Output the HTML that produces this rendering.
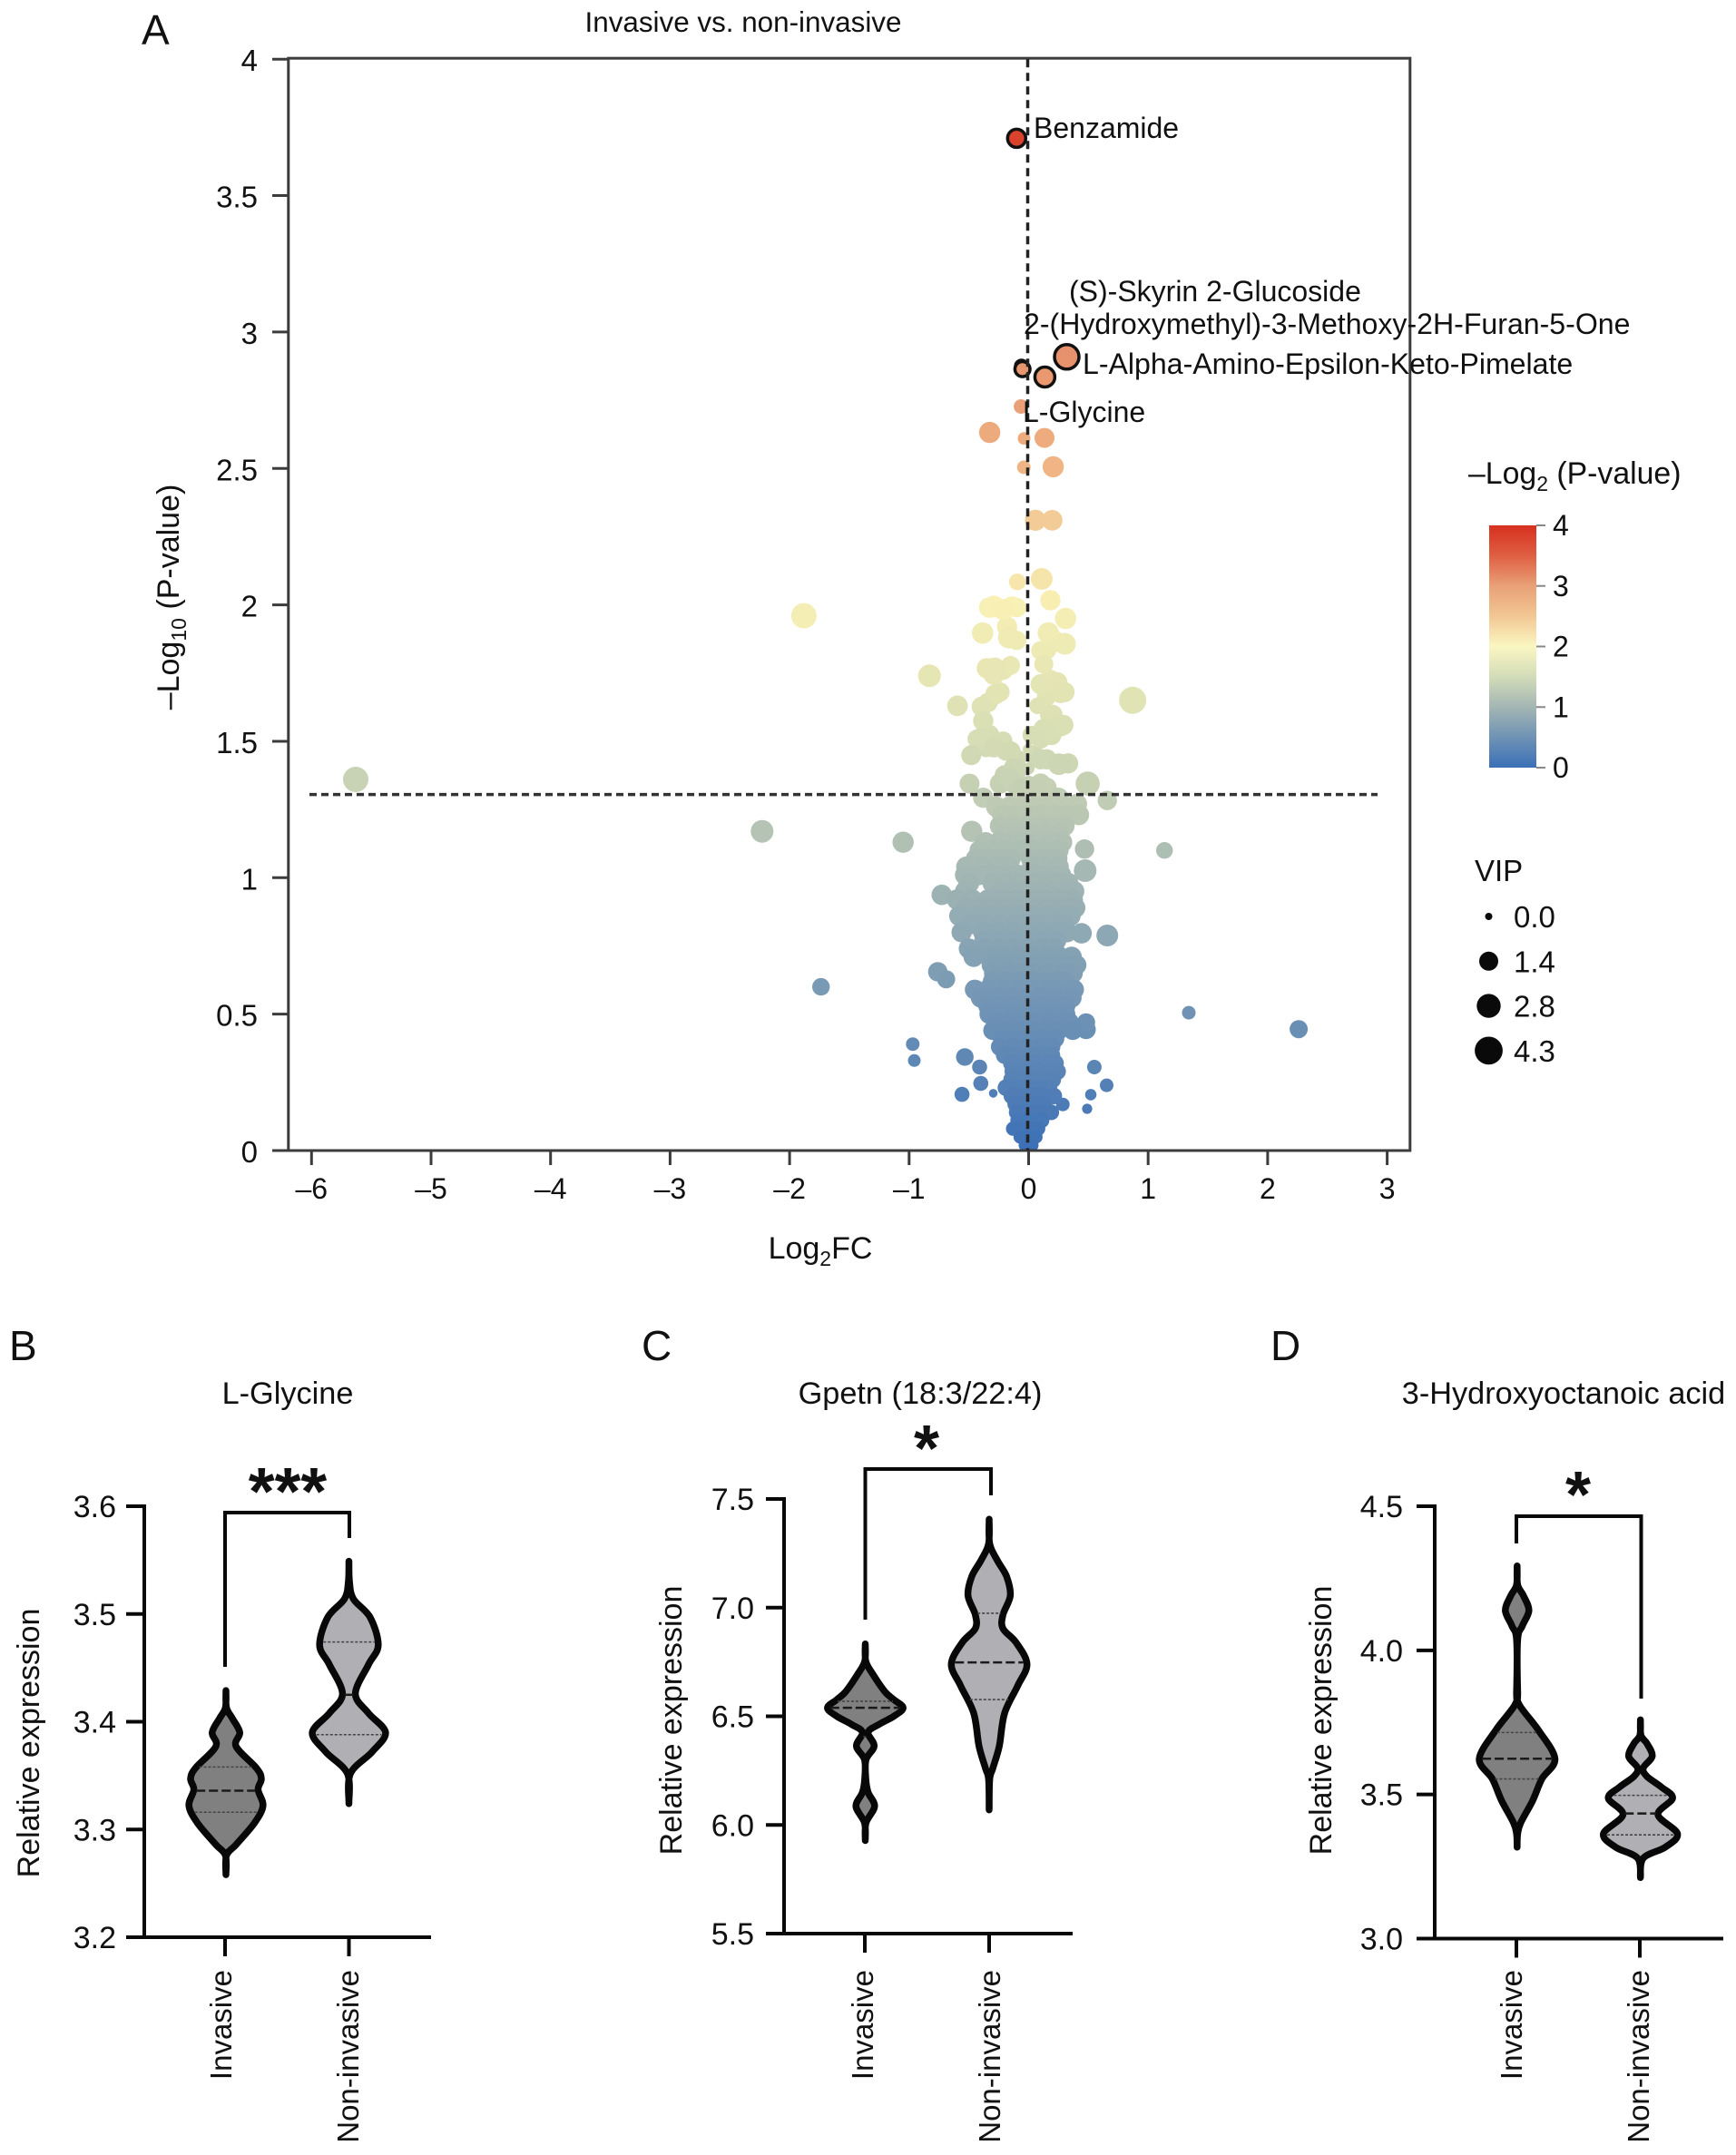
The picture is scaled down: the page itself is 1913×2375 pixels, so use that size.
<!DOCTYPE html>
<html lang="en">
<head>
<meta charset="utf-8">
<title>Invasive vs. non-invasive metabolite volcano and violin plots</title>
<style>
html,body{margin:0;padding:0;background:#fff;}
svg{display:block;}
text{font-family:"Liberation Sans",sans-serif;fill:#111;}
</style>
</head>
<body>
<svg id="figure" xmlns="http://www.w3.org/2000/svg" width="1913" height="2375" viewBox="0 0 1913 2375">
  <defs>
    <linearGradient id="cbar" x1="0" y1="1" x2="0" y2="0"></linearGradient>
  </defs>
  <rect x="0" y="0" width="1913" height="2375" fill="#fff"/>

  <text x="156" y="49" font-size="46">A</text>
  <text x="10" y="1499" font-size="46">B</text>
  <text x="707" y="1499" font-size="46">C</text>
  <text x="1400" y="1499" font-size="46">D</text>

  <text x="819" y="35" font-size="31.4" text-anchor="middle">Invasive vs. non-invasive</text>
  <g id="volcano-points"></g>
  <g id="volcano-axes"></g>

  <text x="904" y="1387" font-size="34" text-anchor="middle">Log<tspan font-size="23" dy="8">2</tspan><tspan dy="-8">FC</tspan></text>
  <text transform="translate(197 658) rotate(-90)" font-size="34" text-anchor="middle">–Log<tspan font-size="23" dy="8">10</tspan><tspan dy="-8"> (P-value)</tspan></text>

  <text x="1139" y="152" font-size="32">Benzamide</text>
  <text x="1178" y="332" font-size="32">(S)-Skyrin 2-Glucoside</text>
  <text x="1128" y="368" font-size="32.1">2-(Hydroxymethyl)-3-Methoxy-2H-Furan-5-One</text>
  <text x="1193" y="412" font-size="32.1">L-Alpha-Amino-Epsilon-Keto-Pimelate</text>
  <text x="1127" y="465" font-size="32">L-Glycine</text>

  <text x="1618" y="533" font-size="33.8">–Log<tspan font-size="23" dy="8">2</tspan><tspan dy="-8"> (P-value)</tspan></text>
  <g id="colorbar"></g>
  <text x="1625" y="971" font-size="33">VIP</text>
  <g id="size-legend"></g>

  <g id="panel-b"></g>
  <g id="panel-c"></g>
  <g id="panel-d"></g>
</svg>

<script>
// ---------- Panel A data ----------
const volcanoXTicks = [-6,-5,-4,-3,-2,-1,0,1,2,3];
const volcanoYTicks = [0,0.5,1,1.5,2,2.5,3,3.5,4];
const volcanoYTickLabels = ['0','0.5','1','1.5','2','2.5','3','3.5','4'];
const pThreshold = 1.305;
const fcThreshold = 0;

// isolated points read individually
const outlierFC = [-5.63,-2.23,-1.88,-1.737,-1.05,-0.97,-0.957,-0.83,-0.727,-0.76,-0.69,-0.595,-0.534,-0.557,-0.494,-0.481,-0.476,-0.41,-0.40,-0.296,0.286,0.443,0.49,0.52,0.55,0.653,0.658,0.468,0.473,0.481,0.481,0.494,0.658,0.87,1.137,1.34,2.26];
const outlierP  = [1.36,1.17,1.96,0.60,1.13,0.39,0.33,1.74,0.937,0.655,0.628,1.63,0.343,0.206,1.345,1.449,1.17,0.306,0.246,0.21,0.169,0.796,0.153,0.205,0.306,0.239,0.788,1.105,1.026,0.444,0.47,1.345,1.283,1.65,1.10,0.505,0.445];
const outlierVip= [3.3,2.4,3.3,1.07,1.96,0.4,0.3,2.4,1.76,1.5,1.2,1.8,1.07,0.6,1.6,1.6,1.96,0.6,0.6,0.02,0.4,1.76,0.08,0.17,0.53,0.4,2.1,1.5,2.4,1.5,1.2,2.86,1.5,4,0.9,0.4,1.2];

// upper arm of the volcano
const upperFC = [-0.064,-0.326,-0.038,0.133,-0.04,0.206,0.057,0.197,-0.094,0.109,0.182,-0.29,-0.139,-0.215,0.309,-0.385,-0.165,0.165,0.304,0.101,0.127,-0.152,-0.284,-0.29,0.101,0.24,0.266,-0.278,-0.392,0.076,0.2,-0.38,0.266,0.127,-0.392,-0.215,0.101,-0.291,-0.152,0,0.1,0.253,-0.127,-0.165,0,0.076,-0.076];
const upperP  = [2.727,2.632,2.61,2.612,2.504,2.506,2.31,2.31,2.084,2.095,2.017,1.994,1.994,1.983,1.95,1.897,1.88,1.897,1.857,1.832,1.783,1.778,1.768,1.746,1.709,1.716,1.679,1.672,1.627,1.63,1.597,1.575,1.557,1.545,1.511,1.501,1.508,1.478,1.463,1.47,1.434,1.416,1.404,1.363,1.40,1.323,1.323];
const upperVip= [0.53,1.96,0.3,1.62,0.4,1.96,1.9,1.8,0.9,2.1,1.7,2.1,1.7,1.9,2.0,2.0,2.1,2.0,2.1,1.4,1.4,1.4,2.0,2.0,1.7,1.7,2.0,1.7,1.7,0.9,1.7,1.7,2.0,1.7,2.0,1.4,1.4,1.7,1.7,0.2,1.7,2.1,1.4,2.0,0.2,2.1,1.7];

// overlapping points that join the upper arm into a blob
const blobFC = [-0.33,-0.10,-0.18,-0.10,0.23,0.15,-0.35,-0.215,0.18,0.30,0.15,-0.24,-0.34,0.18,0.025,0.19,0.29,-0.43,-0.33,-0.25,-0.354,-0.19,-0.10,0.05,0.15,0.33,-0.20,-0.10,-0.127,0.10,0,-0.24,0.15,-0.38,0.25,0.405];
const blobP  = [1.99,1.99,1.92,1.87,1.865,1.835,1.768,1.76,1.725,1.68,1.664,1.68,1.642,1.597,1.523,1.523,1.56,1.508,1.523,1.493,1.479,1.464,1.434,1.449,1.434,1.419,1.375,1.39,1.345,1.345,1.338,1.345,1.33,1.293,1.293,1.27];
const blobVip= [1.7,1.5,1.7,1.5,1.7,1.5,1.7,1.5,1.7,1.7,1.5,1.5,1.5,1.7,1.2,1.7,1.7,1.5,1.7,1.5,1.7,1.5,1.5,1.5,1.7,1.7,1.7,1.5,1.5,1.7,1.5,1.7,1.7,1.7,1.7,1.7];

// dense core of the volcano, one row per P level
const coreRowP = [1.26,1.23,1.19,1.16,1.13,1.10,1.07,1.04,1.01,0.98,0.95,0.92,0.89,0.86,0.83,0.80,0.77,0.74,0.71,0.68,0.65,0.62,0.59,0.56,0.53,0.50,0.47,0.44,0.41,0.38,0.35,0.32,0.29,0.26,0.23,0.20,0.17,0.14,0.11,0.08,0.05,0.02];
const coreRowVip = [1.8,1.8,1.7,1.7,1.7,1.7,1.7,1.8,1.8,1.8,1.8,1.7,1.7,1.7,1.7,1.7,1.7,1.7,1.7,1.6,1.6,1.6,1.6,1.6,1.5,1.5,1.5,1.4,1.3,1.2,1.1,1.1,1.0,1.0,0.9,0.9,0.8,0.7,0.6,0.5,0.4,0.3];
const coreRowFC = [
  [-0.27,-0.16,-0.05,0.06,0.17,0.27,0.37],
  [-0.22,-0.11,0,0.11,0.22,0.32,0.42],
  [-0.24,-0.13,-0.02,0.09,0.20,0.30],
  [-0.20,-0.08,0.03,0.14,0.25],
  [-0.36,-0.25,-0.14,-0.03,0.08,0.19,0.28],
  [-0.41,-0.30,-0.19,-0.08,0.03,0.14,0.25],
  [-0.44,-0.33,-0.22,-0.15,0.02,0.13,0.24],
  [-0.52,-0.40,-0.28,-0.17,0.03,0.14,0.25],
  [-0.53,-0.42,-0.31,-0.20,-0.09,0.05,0.16,0.27],
  [-0.50,-0.30,-0.19,-0.08,0.03,0.14,0.25,0.33],
  [-0.53,-0.24,-0.13,-0.02,0.09,0.20,0.31,0.38],
  [-0.60,-0.47,-0.34,-0.22,-0.10,0.02,0.14,0.26,0.37],
  [-0.52,-0.40,-0.28,-0.16,-0.04,0.08,0.20,0.32,0.39],
  [-0.58,-0.44,-0.32,-0.20,-0.08,0.04,0.16,0.28,0.35],
  [-0.48,-0.36,-0.24,-0.12,0,0.12,0.24,0.30],
  [-0.56,-0.38,-0.26,-0.14,-0.02,0.10,0.22,0.32],
  [-0.37,-0.25,-0.13,-0.01,0.11,0.23],
  [-0.50,-0.36,-0.24,-0.12,0,0.12,0.21],
  [-0.46,-0.33,-0.21,-0.09,0.03,0.15,0.26,0.36],
  [-0.31,-0.19,-0.07,0.05,0.17,0.29,0.40],
  [-0.29,-0.17,-0.05,0.07,0.19,0.31,0.37],
  [-0.30,-0.19,-0.08,0.03,0.14,0.25,0.30],
  [-0.45,-0.34,-0.22,-0.10,0.02,0.14,0.24,0.38],
  [-0.40,-0.27,-0.15,-0.03,0.09,0.21,0.36],
  [-0.34,-0.24,-0.13,-0.02,0.09,0.20,0.31],
  [-0.33,-0.21,-0.10,0.01,0.12,0.23,0.31],
  [-0.27,-0.16,-0.05,0.06,0.17,0.28,0.34],
  [-0.30,-0.19,-0.08,0.03,0.14,0.25,0.37],
  [-0.22,-0.11,0,0.11,0.22],
  [-0.24,-0.13,-0.02,0.09,0.19],
  [-0.20,-0.10,0,0.10,0.19],
  [-0.14,-0.04,0.06,0.16,0.22],
  [-0.13,-0.03,0.07,0.17,0.24],
  [-0.14,-0.05,0.04,0.13,0.20],
  [-0.19,-0.09,0,0.09,0.17],
  [-0.14,-0.05,0.04,0.12,0.21],
  [-0.11,-0.03,0.05,0.13],
  [-0.10,-0.02,0.06,0.14,0.19],
  [-0.09,-0.02,0.05,0.11],
  [-0.13,-0.05,0.02,0.08],
  [-0.07,0,0.06],
  [-0.03,0.03]
];

// highlighted metabolites (black outline)
const highlightFC = [-0.06,-0.052,0.136,0.319,-0.10];
const highlightP  = [2.875,2.864,2.835,2.909,3.71];
const highlightVip= [0.2,0.6,1.62,3.0,1.2];

// colour scale and legends
const colorStopValues = [0,0.5,1,1.5,2,2.5,3,3.5,4];
const colorStopHex = ['#3b6fb6','#6f93b5','#a3b6b3','#d6ddb4','#f8f0b4','#f0b585','#e58a66','#dd4f36','#d7301f'];
const colorbarStopHex = ['#3b6fb6','#6f93b5','#a3b6b3','#d3dcb8','#faf6c2','#f2c793','#e9a077','#df5f42','#d7301f'];
const colorbarTicks = [0,1,2,3,4];
const vipLegendValues = [0,1.4,2.8,4.3];
const vipLegendLabels = ['0.0','1.4','2.8','4.3'];

// ---------- Violin panel data ----------
const categories = ['Invasive','Non-invasive'];

const bTicks = [3.2,3.3,3.4,3.5,3.6];
const bInvasiveLevels = [3.429,3.413,3.403,3.39,3.377,3.357,3.347,3.337,3.322,3.306,3.286,3.276,3.258];
const bInvasiveDensity = [0,0.07,0.23,0.41,0.32,0.82,0.94,0.86,0.98,0.77,0.32,0.07,0];
const bInvasiveQuartiles = [3.316,3.336,3.358];
const bNonLevels = [3.549,3.53,3.514,3.497,3.471,3.453,3.426,3.408,3.39,3.372,3.352,3.324];
const bNonDensity = [0,0.07,0.18,0.59,0.79,0.55,0.23,0.55,0.97,0.64,0.11,0];
const bNonQuartiles = [3.388,3.425,3.474];

const cTicks = [5.5,6.0,6.5,7.0,7.5];
const cInvasiveLevels = [6.833,6.753,6.69,6.614,6.577,6.539,6.50,6.463,6.426,6.363,6.30,6.212,6.15,6.086,6.01,5.928];
const cInvasiveDensity = [0,0.07,0.27,0.55,0.77,1,0.77,0.41,0.14,0.29,0.09,0.07,0.14,0.3,0.09,0];
const cInvasiveQuartiles = [6.406,6.539,6.569];
const cNonLevels = [7.407,7.294,7.218,7.143,7.055,6.967,6.904,6.84,6.74,6.64,6.514,6.363,6.26,6.21,6.069];
const cNonDensity = [0,0.07,0.27,0.5,0.59,0.41,0.41,0.73,1,0.77,0.45,0.32,0.16,0.07,0];
const cNonQuartiles = [6.577,6.748,6.974];

const dTicks = [3.0,3.5,4.0,4.5];
const dInvasiveLevels = [4.293,4.227,4.189,4.138,4.085,4.037,3.857,3.81,3.724,3.624,3.554,3.478,3.402,3.364,3.317];
const dInvasiveDensity = [0,0.07,0.23,0.36,0.2,0.07,0.07,0.13,0.59,1,0.68,0.45,0.16,0.07,0];
const dInvasiveQuartiles = [3.554,3.624,3.715];
const dNonLevels = [3.759,3.705,3.677,3.633,3.592,3.563,3.525,3.487,3.43,3.364,3.317,3.279,3.212];
const dNonDensity = [0,0.07,0.23,0.36,0.14,0.23,0.59,0.86,0.5,0.98,0.68,0.14,0];
const dNonQuartiles = [3.36,3.434,3.497];

// ---------- Helpers ----------
const NS = 'http://www.w3.org/2000/svg';
function make(tag, parent, props){
  const e = document.createElementNS(NS, tag);
  for (const k in props) e.setAttribute(k, props[k]);
  parent.appendChild(e);
  return e;
}
function hexRgb(h){ return [1,3,5].map(i=>parseInt(h.substr(i,2),16)); }
function colorFor(v){
  const c = Math.max(colorStopValues[0], Math.min(colorStopValues[colorStopValues.length-1], v));
  for (let i=1;i<colorStopValues.length;i++){
    if (c<=colorStopValues[i]){
      const t=(c-colorStopValues[i-1])/(colorStopValues[i]-colorStopValues[i-1]);
      const a=hexRgb(colorStopHex[i-1]), b=hexRgb(colorStopHex[i]);
      return 'rgb('+a.map((x,j)=>Math.round(x+(b[j]-x)*t)).join(',')+')';
    }
  }
  return colorStopHex[colorStopHex.length-1];
}

// ---------- Panel A ----------
const xA = v => 1133.5 + 131.7*v;
const yA = v => 1268 - 300.7*v;
const rVip = v => 4 + 5.5*Math.sqrt(v);

const pointsG = document.getElementById('volcano-points');
function drawPoint(fc,p,vip,outlined){
  const c = make('circle', pointsG, {cx:xA(fc).toFixed(1), cy:yA(p).toFixed(1), r:rVip(vip).toFixed(1), fill:colorFor(p)});
  
  
  if (outlined){ c.setAttribute('stroke','#111'); c.setAttribute('stroke-width','3.5'); }
}
blobFC.forEach((fc,i)=>drawPoint(fc,blobP[i],blobVip[i],false));
upperFC.forEach((fc,i)=>drawPoint(fc,upperP[i],upperVip[i],false));
outlierFC.forEach((fc,i)=>drawPoint(fc,outlierP[i],outlierVip[i],false));
coreRowFC.forEach((row,r)=>row.forEach(fc=>drawPoint(fc,coreRowP[r],coreRowVip[r],false)));
highlightFC.forEach((fc,i)=>drawPoint(fc,highlightP[i],highlightVip[i],true));

const axesG = document.getElementById('volcano-axes');
const frame = make('rect', axesG, {x:xA(-6)-25.5, y:yA(4)-1, width:1236, height:yA(0)-yA(4)+1, fill:'none', stroke:'#3c3c3c', 'stroke-width':3});


const hLine = make('line', axesG, {x1:341, x2:1518, y1:yA(pThreshold), y2:yA(pThreshold), stroke:'#333', 'stroke-width':3.5, 'stroke-dasharray':'8 5'});


const vLine = make('line', axesG, {x1:xA(fcThreshold)-1, x2:xA(fcThreshold)-1, y1:yA(4), y2:yA(0), stroke:'#222', 'stroke-width':3.5, 'stroke-dasharray':'9 6'});



volcanoXTicks.forEach(v=>{
  const t = make('line', axesG, {x1:xA(v), x2:xA(v), y1:yA(0), y2:yA(0)+16, stroke:'#3c3c3c', 'stroke-width':3});
  
  
  const l = make('text', axesG, {x:xA(v), y:1321, 'font-size':32, 'text-anchor':'middle'});
  
  
  l.textContent = v<0 ? '–'+Math.abs(v) : String(v);
});
volcanoYTicks.forEach((v,i)=>{
  const t = make('line', axesG, {x1:300, x2:318, y1:yA(v), y2:yA(v), stroke:'#3c3c3c', 'stroke-width':3});
  
  
  const l = make('text', axesG, {x:284, y:yA(v)+13, 'font-size':33, 'text-anchor':'end'});
  
  
  l.textContent = volcanoYTickLabels[i];
});

// colourbar
const grad = document.getElementById('cbar');
colorStopValues.forEach((v,i)=>{
  const s = make('stop', grad, {offset:(v/4), 'stop-color':colorbarStopHex[i]});
  
  
});
const barG = document.getElementById('colorbar');
const yBar = v => 846 - 66.75*v;
const barRect = make('rect', barG, {x:1641, y:yBar(4), width:52, height:yBar(0)-yBar(4), fill:'url(#cbar)'});


colorbarTicks.forEach(v=>{
  const t = make('line', barG, {x1:1693, x2:1703, y1:yBar(v), y2:yBar(v), stroke:'#888', 'stroke-width':2});
  
  
  const l = make('text', barG, {x:1711, y:yBar(v)+11, 'font-size':32});
  
  
  l.textContent = String(v);
});

// size legend
const legG = document.getElementById('size-legend');
vipLegendValues.forEach((v,i)=>{
  const cy = 1010 + 49.3*i;
  const c = make('circle', legG, {cx:1640.5, cy:cy, r:rVip(v).toFixed(1), fill:'#0a0a0a'});
  
  
  const l = make('text', legG, {x:1668, y:cy+12, 'font-size':33});
  
  
  l.textContent = vipLegendLabels[i];
});

// ---------- Violin panels ----------
function smoothSide(pts){
  let d='';
  for (let i=0;i<pts.length-1;i++){
    const p0=pts[Math.max(i-1,0)],p1=pts[i],p2=pts[i+1],p3=pts[Math.min(i+2,pts.length-1)];
    d+=' C'+(p1[0]+(p2[0]-p0[0])/6).toFixed(1)+' '+(p1[1]+(p2[1]-p0[1])/6).toFixed(1)+' '+
       (p2[0]-(p3[0]-p1[0])/6).toFixed(1)+' '+(p2[1]-(p3[1]-p1[1])/6).toFixed(1)+' '+
       p2[0].toFixed(1)+' '+p2[1].toFixed(1);
  }
  return d;
}
function widthAt(levels,dens,q){
  for (let i=1;i<levels.length;i++){
    if (q>=levels[i]){
      const t=(q-levels[i])/(levels[i-1]-levels[i]);
      return dens[i]+(dens[i-1]-dens[i])*t;
    }
  }
  return 0;
}
function drawViolin(g,cx,yS,levels,dens,quart,fill){
  const hw = d => Math.max(d*44.9-3.2, d>0?0.6:0);
  const right = levels.map((v,i)=>[cx+hw(dens[i]),yS(v)]);
  const left = levels.map((v,i)=>[cx-hw(dens[i]),yS(v)]).reverse();
  const d = 'M'+right[0][0].toFixed(1)+' '+right[0][1].toFixed(1)+smoothSide(right)+smoothSide(left)+' Z';
  const body = make('path', g, {d:d, fill:fill, stroke:'#080808', 'stroke-width':7.5, 'stroke-linejoin':'round', 'stroke-linecap':'round'});
  
  
  quart.forEach((q,i)=>{
    const w = Math.max(hw(widthAt(levels,dens,q))-3,2);
    const median = i===1;
    const ln = make('line', g, {x1:cx-w, x2:cx+w, y1:yS(q), y2:yS(q), stroke:median?'#1a1a1a':'#444', 'stroke-width':median?2.5:1.6, 'stroke-dasharray':median?'10 4':'3 2'});
    
    
  });
}
function drawPanel(o){
  const g = document.getElementById(o.id);
  const yS = v => o.yBottom - (v-o.min)/(o.max-o.min)*(o.yBottom-o.yTop);
  const yAxis = make('line', g, {x1:o.axisX, x2:o.axisX, y1:o.yTop-2, y2:o.yBottom+2, stroke:'#080808', 'stroke-width':4});
  
  
  const xAxis = make('line', g, {x1:o.axisX-20, x2:o.axisEnd, y1:o.yBottom, y2:o.yBottom, stroke:'#080808', 'stroke-width':4});
  
  
  o.ticks.forEach(v=>{
    const t = make('line', g, {x1:o.axisX-20, x2:o.axisX, y1:yS(v), y2:yS(v), stroke:'#080808', 'stroke-width':4});
    
    
    const l = make('text', g, {x:o.labelX, y:yS(v)+12, 'font-size':34, 'text-anchor':'end'});
    
    
    l.textContent = v.toFixed(1);
  });
  categories.forEach((c,i)=>{
    const t = make('line', g, {x1:o.catX[i], x2:o.catX[i], y1:o.yBottom, y2:o.yBottom+21, stroke:'#080808', 'stroke-width':4});
    
    
    const l = make('text', g, {transform:'translate('+o.catBase[i]+' 2171) rotate(-90)', 'font-size':33, 'text-anchor':'end'});
    
    
    l.textContent = c;
  });
  const yt = make('text', g, {transform:'translate('+o.yTitleX+' '+o.yTitleY+') rotate(-90)', 'font-size':34, 'text-anchor':'middle'});
  
  
  yt.textContent = 'Relative expression';
  const title = make('text', g, {x:o.titleX, y:1547, 'font-size':34.3, 'text-anchor':'middle'});
  
  
  title.textContent = o.title;
  const br = make('path', g, {d:'M'+o.brL[0]+' '+o.brL[1]+' V'+o.brTop+' H'+o.brR[0]+' V'+o.brR[1], fill:'none', stroke:'#080808', 'stroke-width':4});
  
  
  const st = make('text', g, {x:o.starX, y:o.starY, 'font-size':o.starSize, 'font-weight':'bold', 'text-anchor':'middle'});
  
  
  st.textContent = o.stars;
  drawViolin(g,o.vioX[0],yS,o.l0,o.d0,o.q0,'#808080');
  drawViolin(g,o.vioX[1],yS,o.l1,o.d1,o.q1,'#b0b0b4');
}
drawPanel({id:'panel-b',title:'L-Glycine',titleX:317,min:3.2,max:3.6,ticks:bTicks,yTop:1660,yBottom:2135,axisX:159,axisEnd:475,labelX:128,
  catX:[248,384.5],catBase:[255,395],yTitleX:43,yTitleY:1921,vioX:[249,384.5],
  brL:[248,1837],brR:[385,1695],brTop:1667,stars:'***',starX:317,starY:1669,starSize:74,
  l0:bInvasiveLevels,d0:bInvasiveDensity,q0:bInvasiveQuartiles,l1:bNonLevels,d1:bNonDensity,q1:bNonQuartiles});
drawPanel({id:'panel-c',title:'Gpetn (18:3/22:4)',titleX:1014,min:5.5,max:7.5,ticks:cTicks,yTop:1652,yBottom:2131,axisX:864,axisEnd:1182,labelX:831,
  catX:[953,1090],catBase:[962,1102],yTitleX:751,yTitleY:1896,vioX:[953.5,1090],
  brL:[953.5,1785],brR:[1092,1648],brTop:1619,stars:'*',starX:1021,starY:1621,starSize:72,
  l0:cInvasiveLevels,d0:cInvasiveDensity,q0:cInvasiveQuartiles,l1:cNonLevels,d1:cNonDensity,q1:cNonQuartiles});
drawPanel({id:'panel-d',title:'3-Hydroxyoctanoic acid',titleX:1723,min:3,max:4.5,ticks:dTicks,yTop:1660,yBottom:2136.5,axisX:1581,axisEnd:1899,labelX:1546,
  catX:[1671,1807],catBase:[1677,1817],yTitleX:1467,yTitleY:1896,vioX:[1671.8,1807.7],
  brL:[1671,1701],brR:[1808.5,1872],brTop:1671,stars:'*',starX:1739,starY:1672,starSize:72,
  l0:dInvasiveLevels,d0:dInvasiveDensity,q0:dInvasiveQuartiles,l1:dNonLevels,d1:dNonDensity,q1:dNonQuartiles});
</script>
</body>
</html>
